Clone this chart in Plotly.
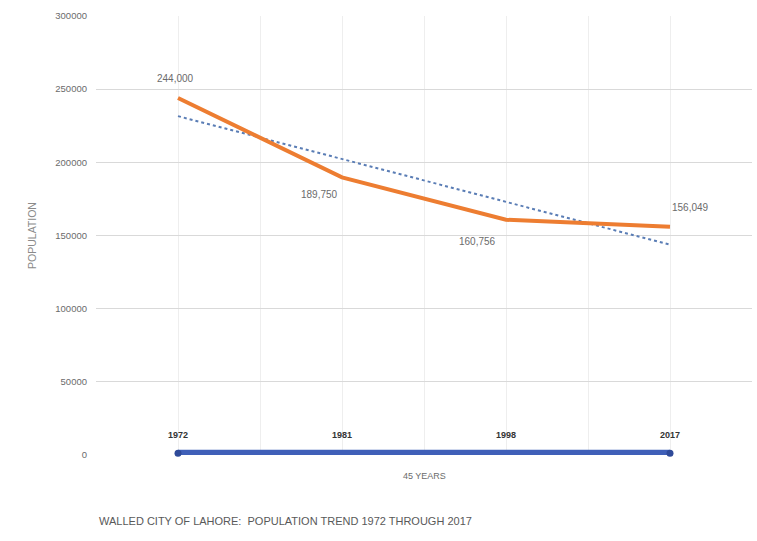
import numpy as np
import plotly.graph_objects as go

years = ["1972", "1981", "1998", "2017"]
population = [244000, 189750, 160756, 156049]
pop_labels = ["244,000", "189,750", "160,756", "156,049"]
span_label = "45 YEARS"
title_text = "WALLED CITY OF LAHORE:  POPULATION TREND 1972 THROUGH 2017"
y_ticks = [0, 50000, 100000, 150000, 200000, 250000, 300000]

xpos = list(range(1, len(years) + 1))
coef = np.polyfit(xpos, population, 1)
trend = [coef[0] * x + coef[1] for x in xpos]

FONT = "Liberation Sans, Arial"
L, R, T, B = 96, 5, 16, 86
W, H = 757, 541

fig = go.Figure()

fig.add_trace(go.Scatter(
    x=xpos, y=trend, mode="lines",
    line=dict(color="#5A7DB5", width=2, dash="dot"),
    hoverinfo="skip", showlegend=False))

fig.add_trace(go.Scatter(
    x=xpos, y=population, mode="lines",
    line=dict(color="#ED7D31", width=4),
    showlegend=False))

fig.add_trace(go.Scatter(
    x=[xpos[0], xpos[-1]], y=[1200, 1200], mode="lines+markers",
    line=dict(color="#3F5FB8", width=7),
    marker=dict(color="#2F4A99", size=7),
    cliponaxis=False, showlegend=False))

annotations = []
label_shifts = [(-3, 19), (-23, -17), (-29, -22), (20, 19)]
for x, y, lab, (dx, dy) in zip(xpos, population, pop_labels, label_shifts):
    annotations.append(dict(
        x=x, y=y, xref="x", yref="y", xshift=dx, yshift=dy, text=lab,
        showarrow=False, font=dict(family=FONT, size=10, color="#6b6b6b")))
for x, yr in zip(xpos, years):
    annotations.append(dict(
        x=x, y=0, xref="x", yref="y", yshift=20, text="<b>" + yr + "</b>",
        showarrow=False, font=dict(family=FONT, size=9, color="#333333")))
annotations.append(dict(
    x=(xpos[0] + xpos[-1]) / 2, y=0, xref="x", yref="y", yshift=-21, text=span_label,
    showarrow=False, font=dict(family=FONT, size=9, color="#6b6b6b")))

plot_w = W - L - R
plot_h = H - T - B
annotations.append(dict(
    x=(97 - L) / plot_w, y=(H - B - 521) / plot_h, xref="paper", yref="paper",
    text=title_text, showarrow=False, xanchor="left", yanchor="middle",
    font=dict(family=FONT, size=11, color="#595959")))

fig.update_layout(
    width=W, height=H,
    margin=dict(l=L, r=R, t=T, b=B),
    paper_bgcolor="white", plot_bgcolor="white",
    xaxis=dict(range=[0.5, 4.5], dtick=0.5, tick0=0.5, showticklabels=False,
               showgrid=True, gridcolor="#eeeeee", gridwidth=1, zeroline=False,
               showline=False),
    yaxis=dict(range=[0, 300000], tickvals=y_ticks, tickformat="d",
               showgrid=True, gridcolor="#d9d9d9", gridwidth=1, zeroline=False,
               tickfont=dict(family=FONT, size=9.5, color="#6b6b6b"),
               ticklabelstandoff=8,
               ticks="", ticklen=0, title=dict(text="POPULATION", standoff=16,
               font=dict(family=FONT, size=10.5, color="#8a8a8a"))),
    annotations=annotations,
)

fig.write_html("out.html")
